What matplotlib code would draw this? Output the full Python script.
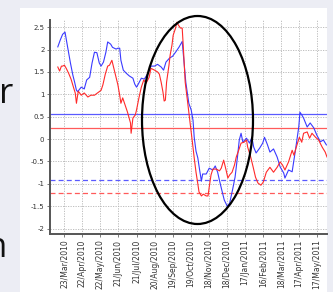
import matplotlib
matplotlib.use("Agg")
import matplotlib.pyplot as plt
import matplotlib.dates as mdates
from matplotlib.patches import Rectangle, Ellipse
import numpy as np
import pandas as pd

blue_dates = ["2010-03-12", "2010-03-16", "2010-03-20", "2010-03-24", "2010-03-28", "2010-04-02",
              "2010-04-06", "2010-04-09", "2010-04-12", "2010-04-14", "2010-04-20", "2010-04-25",
              "2010-04-29", "2010-05-04", "2010-05-08", "2010-05-12", "2010-05-16", "2010-05-20",
              "2010-05-23", "2010-05-27", "2010-05-31", "2010-06-03", "2010-06-08", "2010-06-11",
              "2010-06-17", "2010-06-20", "2010-06-23", "2010-06-25", "2010-06-29", "2010-07-04",
              "2010-07-09", "2010-07-15", "2010-07-18", "2010-07-21", "2010-07-24", "2010-07-29",
              "2010-08-03", "2010-08-09", "2010-08-14", "2010-08-20", "2010-08-25", "2010-08-31",
              "2010-09-04", "2010-09-08", "2010-09-14", "2010-09-19", "2010-09-25", "2010-09-30",
              "2010-10-05", "2010-10-07", "2010-10-11", "2010-10-16", "2010-10-20", "2010-10-23",
              "2010-10-25", "2010-10-28", "2010-10-31", "2010-11-03", "2010-11-06", "2010-11-08",
              "2010-11-14", "2010-11-19", "2010-11-25", "2010-11-29", "2010-12-03", "2010-12-06",
              "2010-12-09", "2010-12-14", "2010-12-19", "2010-12-23", "2010-12-28", "2011-01-01",
              "2011-01-05", "2011-01-08", "2011-01-11", "2011-01-14", "2011-01-20", "2011-01-25",
              "2011-01-29", "2011-02-01", "2011-02-05", "2011-02-11", "2011-02-16", "2011-02-19",
              "2011-02-24", "2011-02-28", "2011-03-06", "2011-03-12", "2011-03-17", "2011-03-23",
              "2011-03-25", "2011-03-31", "2011-04-06", "2011-04-11", "2011-04-17", "2011-04-19",
              "2011-04-22", "2011-04-25", "2011-05-01", "2011-05-06", "2011-05-12", "2011-05-17",
              "2011-05-23", "2011-05-28", "2011-06-02"]
blue_values = [2.06, 2.21, 2.34, 2.39, 2.08, 1.70,
               1.43, 1.27, 1.09, 1.06, 1.16, 1.12,
               1.32, 1.38, 1.70, 1.94, 1.93, 1.70,
               1.63, 1.72, 1.94, 2.17, 2.12, 2.05,
               2.01, 2.03, 2.03, 1.76, 1.54, 1.47,
               1.41, 1.36, 1.23, 1.16, 1.23, 1.36,
               1.34, 1.47, 1.63, 1.63, 1.67, 1.61,
               1.54, 1.72, 1.81, 1.85, 1.96, 2.06,
               2.18, 1.88, 1.27, 0.80, 0.65, 0.42,
               0.04, -0.27, -0.42, -0.69, -0.94, -0.78,
               -0.78, -0.65, -0.69, -0.60, -0.74, -0.92,
               -1.09, -1.36, -1.50, -1.43, -1.12, -0.85,
               -0.40, -0.02, 0.13, -0.07, 0.02, -0.09,
               0.04, -0.18, -0.31, -0.20, -0.09, 0.04,
               -0.13, -0.29, -0.22, -0.40, -0.62, -0.76,
               -0.87, -0.69, -0.73, -0.29, 0.27, 0.60,
               0.54, 0.47, 0.27, 0.36, 0.25, 0.09,
               -0.06, -0.02, -0.13]

red_dates = ["2010-03-12", "2010-03-15", "2010-03-18", "2010-03-20", "2010-03-23", "2010-03-26",
             "2010-03-30", "2010-04-03", "2010-04-07", "2010-04-10", "2010-04-12", "2010-04-15",
             "2010-04-20", "2010-04-25", "2010-05-01", "2010-05-06", "2010-05-12", "2010-05-17",
             "2010-05-23", "2010-05-26", "2010-05-30", "2010-06-03", "2010-06-06", "2010-06-10",
             "2010-06-14", "2010-06-20", "2010-06-23", "2010-06-25", "2010-06-28", "2010-07-02",
             "2010-07-06", "2010-07-11", "2010-07-12", "2010-07-15", "2010-07-19", "2010-07-21",
             "2010-07-25", "2010-07-29", "2010-08-02", "2010-08-06", "2010-08-11", "2010-08-14",
             "2010-08-20", "2010-08-25", "2010-08-28", "2010-08-31", "2010-09-03", "2010-09-05",
             "2010-09-07", "2010-09-09", "2010-09-13", "2010-09-15", "2010-09-18", "2010-09-20",
             "2010-09-24", "2010-09-26", "2010-09-29", "2010-10-02", "2010-10-05", "2010-10-07",
             "2010-10-10", "2010-10-14", "2010-10-18", "2010-10-22", "2010-10-25", "2010-10-28",
             "2010-10-31", "2010-11-02", "2010-11-06", "2010-11-09", "2010-11-14", "2010-11-17",
             "2010-11-19", "2010-11-22", "2010-11-25", "2010-12-01", "2010-12-06", "2010-12-09",
             "2010-12-13", "2010-12-17", "2010-12-20", "2010-12-23", "2010-12-27", "2010-12-31",
             "2011-01-03", "2011-01-07", "2011-01-11", "2011-01-16", "2011-01-20", "2011-01-22",
             "2011-01-27", "2011-01-31", "2011-02-04", "2011-02-08", "2011-02-13", "2011-02-17",
             "2011-02-22", "2011-02-28", "2011-03-06", "2011-03-12", "2011-03-17", "2011-03-21",
             "2011-03-25", "2011-03-31", "2011-04-06", "2011-04-09", "2011-04-14", "2011-04-18",
             "2011-04-22", "2011-04-25", "2011-05-01", "2011-05-05", "2011-05-09", "2011-05-15",
             "2011-05-20", "2011-05-26", "2011-05-31", "2011-06-03"]
red_values = [1.61, 1.52, 1.63, 1.63, 1.65, 1.58,
              1.47, 1.34, 1.16, 1.03, 0.80, 1.07,
              0.98, 1.03, 0.94, 0.98, 0.98, 1.03,
              1.09, 1.21, 1.45, 1.63, 1.65, 1.76,
              1.54, 1.21, 0.98, 0.80, 0.92, 0.76,
              0.60, 0.36, 0.13, 0.47, 0.54, 0.65,
              0.92, 1.16, 1.32, 1.25, 1.38, 1.58,
              1.54, 1.50, 1.45, 1.27, 1.05, 0.85,
              0.87, 1.27, 1.65, 1.88, 2.10, 2.32,
              2.48, 2.61, 2.54, 2.48, 2.48, 2.03,
              1.27, 0.83, 0.38, -0.07, -0.42, -0.74,
              -1.00, -1.18, -1.27, -1.23, -1.27, -1.27,
              -1.07, -0.80, -0.67, -0.67, -0.71, -0.65,
              -0.47, -0.69, -0.87, -0.80, -0.74, -0.58,
              -0.40, -0.25, -0.09, -0.07, -0.02, -0.18,
              -0.40, -0.62, -0.85, -0.98, -1.03, -0.96,
              -0.74, -0.63, -0.74, -0.63, -0.51, -0.58,
              -0.69, -0.51, -0.25, -0.36, -0.13, 0.04,
              -0.07, 0.13, 0.16, 0.02, 0.13, 0.04,
              -0.02, -0.18, -0.29, -0.40]

blue_level = 0.55
red_level = 0.25
blue_dashed_level = -0.92
red_dashed_level = -1.21

tick_dates = ["2010-03-23", "2010-04-22", "2010-05-22", "2010-06-21", "2010-07-21", "2010-08-20",
              "2010-09-19", "2010-10-19", "2010-11-18", "2010-12-18", "2011-01-17", "2011-02-16",
              "2011-03-18", "2011-04-17", "2011-05-17"]
tick_labels = ["23/Mar/2010", "22/Apr/2010", "22/May/2010", "21/Jun/2010", "21/Jul/2010",
               "20/Aug/2010", "19/Sep/2010", "19/Oct/2010", "18/Nov/2010", "18/Dec/2010",
               "17/Jan/2011", "16/Feb/2011", "18/Mar/2011", "17/Apr/2011", "17/May/2011"]
y_ticks = [-2, -1.5, -1, -0.5, 0, 0.5, 1, 1.5, 2, 2.5]
y_labels = ["-2", "-1.5", "-1", "-0.5", "0", "0.5", "1", "1.5", "2", "2.5"]

W, H = 333, 292
fig = plt.figure(figsize=(W / 100, H / 100), dpi=100)
fig.patch.set_facecolor("#ecedf4")

# white slide panel
fig.add_artist(Rectangle((20 / W, 0), (327 - 20) / W, 1 - 8 / H, transform=fig.transFigure,
                         facecolor="white", edgecolor="none", zorder=0))

# clipped slide text
fig.text(13 / W, 1 - 103 / H, "r", ha="right", va="baseline", fontsize=25,
         family="Open Sans", color="#111111")
fig.text(7 / W, 1 - 257 / H, "n", ha="right", va="baseline", fontsize=25,
         family="Open Sans", color="#111111")

ax = fig.add_axes([50 / W, 1 - 234 / H, (327 - 50) / W, (234 - 20) / H])
ax.set_facecolor("white")

bd = pd.to_datetime(blue_dates)
rd = pd.to_datetime(red_dates)

ax.axhline(blue_level, color="#5a5aff", lw=0.9, zorder=2)
ax.axhline(red_level, color="#ff5a5a", lw=0.9, zorder=2)
ax.axhline(blue_dashed_level, color="#5a5aff", lw=0.9, dashes=(4, 2.5), zorder=2)
ax.axhline(red_dashed_level, color="#ff5a5a", lw=0.9, dashes=(4, 2.5), zorder=2)

ax.plot(bd, blue_values, color="#3a3aff", lw=0.8, zorder=3)
ax.plot(rd, red_values, color="#ff2a2a", lw=0.8, zorder=4)

ax.set_xlim(pd.Timestamp("2010-02-27"), pd.Timestamp("2011-06-03"))
ax.set_ylim(-2.12, 2.66)

ax.set_xticks(pd.to_datetime(tick_dates))
ax.set_xticklabels(tick_labels, rotation=90, fontsize=5.5, color="#333333")
ax.set_yticks(y_ticks)
ax.set_yticklabels(y_labels, fontsize=5, color="#333333")
ax.tick_params(axis="both", length=2, width=0.6, color="#666666", pad=2)

ax.grid(True, color="#b5b5b5", lw=0.6, linestyle=(0, (1.5, 1.5)))
ax.set_axisbelow(True)

for s in ["top", "right"]:
    ax.spines[s].set_visible(False)
for s in ["left", "bottom"]:
    ax.spines[s].set_color("#555555")
    ax.spines[s].set_linewidth(1.4)

# annotation ellipse
fig.add_artist(Ellipse((197.5 / W, 1 - 120 / H), 111 / W, 208 / H, transform=fig.transFigure,
                       facecolor="none", edgecolor="black", lw=1.6, zorder=10, clip_on=False))

fig.savefig("out.png", dpi=100, facecolor=fig.get_facecolor())
